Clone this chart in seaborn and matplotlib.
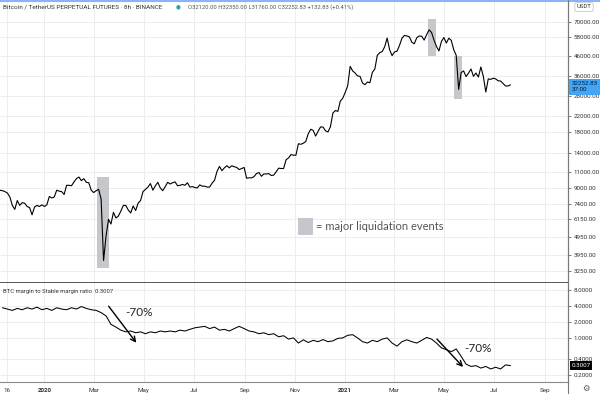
import pandas as pd
import matplotlib
matplotlib.use("Agg")
import matplotlib.pyplot as plt
from matplotlib.patches import Rectangle
from matplotlib.lines import Line2D
from matplotlib.ticker import NullLocator, FuncFormatter
import seaborn as sns

# BTCUSDT perp, one close every 3 days starting 2019-11-08
price_start = "2019-11-08"
price_close = [
    8800, 8750, 8650, 8500, 8100, 7300, 6950, 7750,                        # Nov 19
    7300, 7550, 7500, 7200, 7100, 6500, 7150, 7300, 7200, 7350,            # Dec 19
    7200, 7350, 8150, 8000, 8100, 8800, 8700, 8650, 8350, 9350, 9350,      # Jan 20
    9300, 9750, 10150, 10350, 9900, 10150, 9700, 9650, 8800,               # Feb 20
    8550, 8750, 8900, 7900, 3700, 5000, 6150, 5800, 6700, 6250, 6400,      # Mar 20
    6800, 7300, 7300, 6900, 6650, 7250, 6850, 7500, 7750, 8650,            # Apr 20
    8900, 9150, 9550, 8800, 9300, 9700, 9050, 8750, 9200, 9700,            # May 20
    9500, 9650, 9750, 9300, 9350, 9450, 9350, 9650, 9150, 9200,            # Jun 20
    9100, 9050, 9400, 9250, 9250, 9150, 9150, 9600, 9950, 11100,           # Jul 20
    11800, 11200, 11600, 11900, 11600, 11900, 11750, 11650, 11350, 11500, 11650,  # Aug 20
    10200, 10250, 10250, 10400, 10800, 10950, 10450, 10750, 10750, 10800,  # Sep 20
    10550, 10600, 11050, 11550, 11500, 11500, 12800, 13100, 13650, 13550,  # Oct 20
    13550, 15600, 15500, 15700, 16050, 17650, 18650, 18400, 17150, 18200,  # Nov 20
    19200, 19150, 18300, 18050, 19250, 22800, 23500, 23250, 26400, 27350,  # Dec 20
    29400, 31900, 40500, 38300, 37300, 36000, 35800, 33000, 32300, 33400, 33100,  # Jan 21
    37600, 39200, 46400, 47900, 48600, 51600, 57400, 49700, 46200,         # Feb 21
    48400, 48800, 52400, 57300, 59300, 58900, 58300, 54500, 53500, 57600,  # Mar 21
    58900, 58700, 56000, 59800, 63500, 61500, 56000, 51700, 49000, 55000,  # Apr 21
    57800, 54000, 57300, 55800, 49700, 46400, 30500, 37500, 38300, 35700, 37300,  # May 21
    39200, 35800, 37300, 35500, 40200, 35800, 29500, 34700, 34500, 35000,  # Jun 21
    34700, 33900, 33800, 32800, 31800, 31800, 32252.83,                    # Jul 21
]

# BTC margin / stable margin ratio, one value every 6 days from 2019-11-11
ratio_start = "2019-11-11"
ratio_vals = [
    3.7, 3.5, 3.3, 3.6, 3.4, 3.7, 3.5, 3.8, 3.4, 3.6,
    3.3, 3.7, 3.5, 3.4, 3.7, 3.5, 3.9, 3.6, 3.4, 3.3,
    3.0, 2.6, 1.8, 1.6, 1.4, 1.3, 1.35, 1.25, 1.3, 1.2,
    1.3, 1.25, 1.35, 1.3, 1.35, 1.3, 1.4, 1.35, 1.45, 1.55,
    1.6, 1.65, 1.5, 1.6, 1.4, 1.45, 1.35, 1.5, 1.65, 1.5,
    1.35, 1.3, 1.2, 1.25, 1.15, 1.2, 1.05, 1.1, 0.95, 1.0,
    0.8, 0.92, 0.82, 0.9, 0.85, 0.93, 0.85, 0.88, 0.98, 1.0,
    1.12, 1.15, 1.0, 0.85, 0.8, 0.9, 0.85, 0.95, 1.0, 0.8,
    0.7, 0.85, 0.92, 0.85, 0.8, 0.9, 1.02, 0.95, 0.8, 0.65,
    0.6, 0.55, 0.62, 0.45, 0.32, 0.29, 0.3, 0.27, 0.29, 0.26,
    0.28, 0.26, 0.31, 0.3007,
]

price_ticks = [3250, 3950, 4950, 6150, 7400, 9000, 11000, 14000, 18000,
               22000, 28000, 36000, 46000, 58000, 70000]
ratio_ticks = [0.2, 0.4, 1.0, 2.0, 4.0, 8.0]

month_ticks = ["2019-11-16", "2020-01-01", "2020-03-01", "2020-05-01", "2020-07-01",
               "2020-09-01", "2020-11-01", "2021-01-01", "2021-03-01", "2021-05-01",
               "2021-07-01", "2021-09-01"]
month_labels = ["16", "2020", "Mar", "May", "Jul", "Sep", "Nov", "2021",
                "Mar", "May", "Jul", "Sep"]

# liquidation boxes
liq_start = ["2020-03-05", "2021-04-12", "2021-05-13"]
liq_end = ["2020-03-20", "2021-04-21", "2021-05-23"]
liq_low = [3380, 46000, 27100]
liq_high = [10380, 72600, 46000]

last_price = 32252.83
last_ratio = 0.3007

df_price = pd.DataFrame({
    "date": pd.date_range(price_start, periods=len(price_close), freq="3D"),
    "close": price_close,
})
df_ratio = pd.DataFrame({
    "date": pd.date_range(ratio_start, periods=len(ratio_vals), freq="6D"),
    "ratio": ratio_vals,
})

sns.set_style("white")
plt.rcParams["font.family"] = ["Roboto", "DejaVu Sans"]

W, H = 600, 394
def fx(x):
    return x / W
def fy(y):
    return 1 - y / H

fig = plt.figure(figsize=(6, 3.94), dpi=100)
ax1 = fig.add_axes([0, fy(283), 568 / W, 283 / H])
ax2 = fig.add_axes([0, fy(382), 568 / W, 99 / H], sharex=ax1)

grid_c = "#ededed"
lab_c = "#333333"

# price panel
for s, e, lo, hi in zip(liq_start, liq_end, liq_low, liq_high):
    ax1.fill_between([pd.Timestamp(s), pd.Timestamp(e)], lo, hi,
                     color="#c6c7cc", lw=0, zorder=1)
sns.lineplot(data=df_price, x="date", y="close", ax=ax1, color="black",
             linewidth=0.8, zorder=3)
ax1.set_yscale("log")
ax1.set_ylim(2805, 91750)
ax1.set_xlim(pd.Timestamp("2019-11-08"), pd.Timestamp("2021-09-29"))

# ratio panel
sns.lineplot(data=df_ratio, x="date", y="ratio", ax=ax2, color="black",
             linewidth=0.75, zorder=3)
ax2.set_yscale("log")
ax2.set_ylim(0.1476, 10.84)

for ax, ticks, fmt in [(ax1, price_ticks, "{:.2f}"), (ax2, ratio_ticks, "{:.4f}")]:
    ax.yaxis.tick_right()
    ax.set_yticks(ticks)
    ax.yaxis.set_minor_locator(NullLocator())
    ax.yaxis.set_major_formatter(FuncFormatter(lambda v, p, f=fmt: f.format(v)))
    ax.tick_params(axis="y", direction="out", length=2.5, width=0.6, color="#666",
                   labelsize=4.5, labelcolor=lab_c, pad=1.5)
    ax.grid(True, color=grid_c, lw=0.7)
    ax.set_axisbelow(True)
    ax.set_xlabel("")
    ax.set_ylabel("")
    for side in ["top", "left"]:
        ax.spines[side].set_visible(False)
    ax.spines["right"].set_color("#787878")
    ax.spines["right"].set_linewidth(0.8)

ax1.spines["bottom"].set_color("#555555")
ax1.spines["bottom"].set_linewidth(1.4)
ax2.spines["bottom"].set_color("#8a8a8a")
ax2.spines["bottom"].set_linewidth(0.8)

ax2.set_xticks(pd.to_datetime(month_ticks))
ax2.set_xticklabels(month_labels)
ax1.tick_params(axis="x", length=0, labelbottom=False)
ax2.tick_params(axis="x", length=2, width=0.6, color="#888", labelsize=4.5,
                labelcolor=lab_c, pad=2)
for t in ax2.get_xticklabels():
    if t.get_text() in ("2020", "2021"):
        t.set_fontweight("bold")

# last-value labels on the right scale
ax1.annotate(f"{last_price:.2f}\n37:00", xy=(1.0, last_price),
             xycoords=("axes fraction", "data"), xytext=(2.5, -1.5),
             textcoords="offset points", ha="left", va="center", fontsize=4.5,
             color="#0d1b2a", linespacing=1.25, annotation_clip=False,
             bbox=dict(boxstyle="square,pad=0.4", fc="#42a5f5", ec="none"))
ax2.annotate(f"{last_ratio:.4f}", xy=(1.0, last_ratio),
             xycoords=("axes fraction", "data"), xytext=(2.5, 0),
             textcoords="offset points", ha="left", va="center", fontsize=4.5,
             color="white", annotation_clip=False,
             bbox=dict(boxstyle="square,pad=0.3", fc="black", ec="none"))

# headers
fig.text(fx(3), fy(7), "Bitcoin / TetherUS PERPETUAL FUTURES · 8h · BINANCE",
         fontsize=4.6, color=lab_c, va="center")
fig.text(fx(178), fy(7), "●", fontsize=4, color="#26a69a", va="center", ha="center",
         family="DejaVu Sans")
fig.text(fx(188), fy(7), "O32120.00 H32350.00 L31760.00 C32252.83 +132.83 (+0.41%)",
         fontsize=4.2, color="#555555", va="center")
fig.text(fx(3), fy(291), "BTC margin to Stable margin ratio  0.3007",
         fontsize=4.2, color=lab_c, va="center")
fig.text(fx(584), fy(7), "USDT", fontsize=4.3, ha="center", va="center", color=lab_c,
         bbox=dict(boxstyle="round,pad=0.3", fc="white", ec="#bbbbbb", lw=0.5))
fig.text(fx(586), fy(388), "⚙", fontsize=6, family="DejaVu Sans", ha="center",
         va="center", color="#555555")

# legend note
fig.add_artist(Rectangle((fx(298), fy(235)), 15 / W, 17 / H,
                         transform=fig.transFigure, color="#c6c7cc", lw=0))
fig.text(fx(316), fy(226), "= major liquidation events", fontsize=8,
         family=["Lato", "DejaVu Sans"], color="#555555", va="center")

# hand-drawn style arrows + labels
ax2.annotate("", xy=(fx(138), fy(345)), xytext=(fx(107), fy(304)),
             xycoords="figure fraction", textcoords="figure fraction",
             arrowprops=dict(arrowstyle="->", lw=1.0, color="black", mutation_scale=9))
ax2.annotate("", xy=(fx(465), fy(369)), xytext=(fx(435), fy(337)),
             xycoords="figure fraction", textcoords="figure fraction",
             arrowprops=dict(arrowstyle="->", lw=1.0, color="black", mutation_scale=9))
fig.text(fx(125), fy(313), "-70%", fontsize=8.5, family=["Lato", "DejaVu Sans"],
         color="#222222", va="center")
fig.text(fx(464), fy(348), "-70%", fontsize=8.5, family=["Lato", "DejaVu Sans"],
         color="#222222", va="center")

# frame lines
fig.add_artist(Line2D([0, 1], [fy(0.6), fy(0.6)], transform=fig.transFigure,
                      color="#8ab4f8", lw=1.5))
fig.add_artist(Line2D([fx(568), fx(568)], [0, 1], transform=fig.transFigure,
                      color="#787878", lw=0.8))

fig.savefig("out.png", dpi=100)
